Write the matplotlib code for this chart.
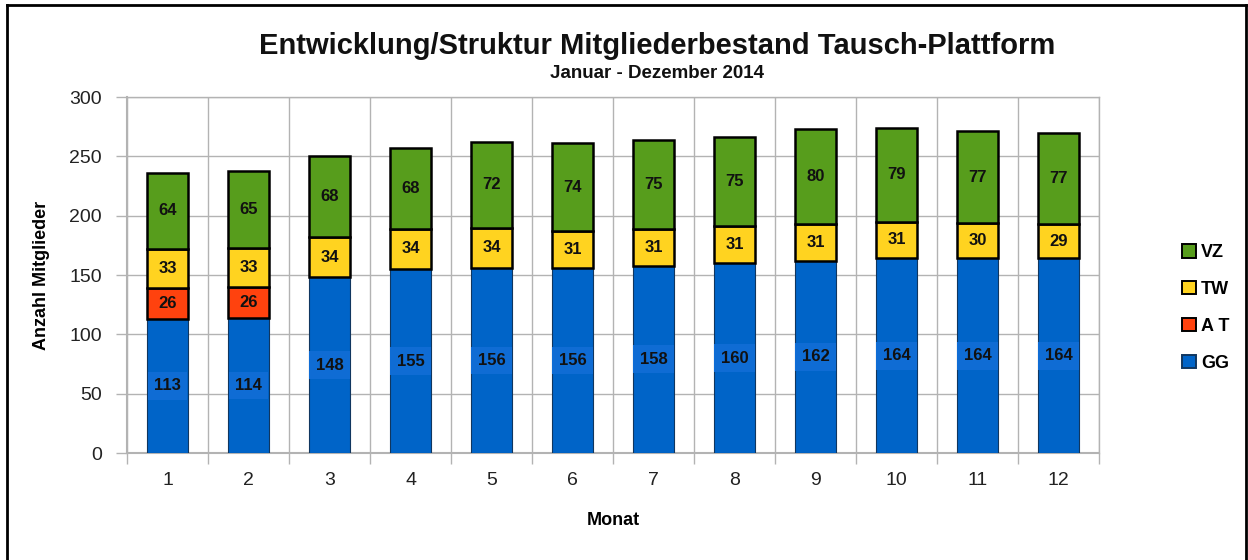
import matplotlib
matplotlib.use("Agg")
import matplotlib.pyplot as plt
import numpy as np
from matplotlib.lines import Line2D
from matplotlib.patches import Patch

plt.rcParams['font.family'] = ['Liberation Sans', 'DejaVu Sans']

months = ['1', '2', '3', '4', '5', '6', '7', '8', '9', '10', '11', '12']
gg = [113, 114, 148, 155, 156, 156, 158, 160, 162, 164, 164, 164]
at = [26, 26, 0, 0, 0, 0, 0, 0, 0, 0, 0, 0]
tw = [33, 33, 34, 34, 34, 31, 31, 31, 31, 31, 30, 29]
vz = [64, 65, 68, 68, 72, 74, 75, 75, 80, 79, 77, 77]
series_names = ['GG', 'A T', 'TW', 'VZ']
colors = ['#0064C8', '#FF420E', '#FFD320', '#579D1C']

title = 'Entwicklung/Struktur Mitgliederbestand Tausch-Plattform'
subtitle = 'Januar - Dezember 2014'
ylabel = 'Anzahl Mitglieder'
xlabel = 'Monat'

fig = plt.figure(figsize=(12.48, 5.6), dpi=100)
ax = fig.add_axes([127/1248, 1-453/560, (1099-127)/1248, (453-97)/560])

x = np.arange(len(months))
w = 0.5
data = [gg, at, tw, vz]
bottom = np.zeros(len(months))
for i, (vals, c) in enumerate(zip(data, colors)):
    vals = np.array(vals, dtype=float)
    mask = vals > 0
    if i == 0:
        ax.bar(x[mask], vals[mask], w, bottom=bottom[mask], color=c,
               edgecolor='#10365F', linewidth=0.8, zorder=3)
    else:
        ax.bar(x[mask], vals[mask], w, bottom=bottom[mask], color=c,
               edgecolor='black', linewidth=1.8, zorder=3)
    for xi, v, b in zip(x[mask], vals[mask], bottom[mask]):
        if i == 0:
            ax.text(xi, b + v/2, f'{int(v)}', ha='center', va='center',
                    fontsize=12, fontweight='bold', color='#111111', zorder=5,
                    bbox=dict(boxstyle='square,pad=0.38', facecolor='#0F6CD4',
                              edgecolor='none'))
        else:
            ax.text(xi, b + v/2, f'{int(v)}', ha='center', va='center',
                    fontsize=12, fontweight='bold', color='#111111', zorder=5)
    bottom += vals

ax.set_xlim(-0.5, len(months) - 0.5)
ax.set_ylim(0, 300)
ax.set_yticks(np.arange(0, 301, 50))
ax.set_xticks(x)
ax.set_xticklabels(months)
ax.set_xticks(np.arange(-0.5, len(months), 1), minor=True)
ax.tick_params(axis='x', which='major', length=0, pad=14, labelsize=14, colors='#222222')
ax.tick_params(axis='x', which='minor', length=8, color='#B3B3B3', width=1)
ax.tick_params(axis='y', length=8, color='#B3B3B3', width=1, pad=10,
               labelsize=14, labelcolor='#222222')
ax.grid(axis='y', color='#B3B3B3', linewidth=1, zorder=0)
ax.grid(axis='x', which='minor', color='#B3B3B3', linewidth=1, zorder=0)
for s in ax.spines.values():
    s.set_color('#B3B3B3')
    s.set_linewidth(1)
ax.spines['left'].set_linewidth(1.5)
ax.spines['bottom'].set_linewidth(1.5)

ax.set_ylabel(ylabel, fontsize=13, fontweight='bold', labelpad=14)
ax.set_xlabel(xlabel, fontsize=13, fontweight='bold', labelpad=16)

fig.text(657/1248, 1-46/560, title, ha='center', va='center', fontsize=21,
         fontweight='bold', color='#111111')
fig.text(657/1248, 1-74/560, subtitle, ha='center', va='center', fontsize=13.5,
         fontweight='bold', color='#111111')

handles = []
for name, c in zip(series_names[::-1], colors[::-1]):
    handles.append(Patch(facecolor=c, edgecolor='black' if name != 'GG' else '#10365F',
                         linewidth=1.4, label=name))
leg = fig.legend(handles=handles, loc='center left', bbox_to_anchor=(1166/1248, 1-308/560),
                 frameon=False, fontsize=13, handlelength=0.75, handleheight=0.75,
                 handletextpad=0.3, labelspacing=1.1)
for t in leg.get_texts():
    t.set_fontweight('bold')

# outer frame
lw = 2
fig.add_artist(Line2D([7/1248, 7/1248], [0, 1-5/560], color='black', lw=lw, transform=fig.transFigure))
fig.add_artist(Line2D([7/1248, 1246/1248], [1-5/560, 1-5/560], color='black', lw=lw, transform=fig.transFigure))
fig.add_artist(Line2D([1246/1248, 1246/1248], [0, 1-5/560], color='black', lw=lw, transform=fig.transFigure))

fig.savefig('out.png', dpi=100)
